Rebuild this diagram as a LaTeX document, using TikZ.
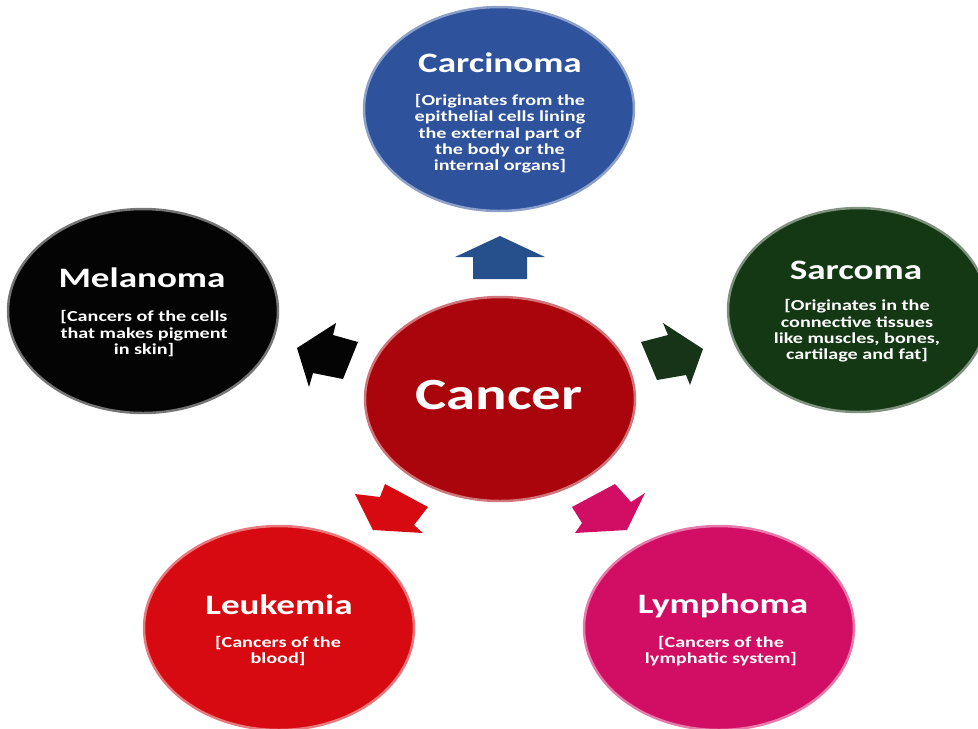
\documentclass[tikz,border=0pt]{standalone}
\usepackage{fontspec}
\setmainfont{Carlito}
\usepackage{graphicx}
\usetikzlibrary{shapes.geometric,positioning}

\definecolor{carcblue}{RGB}{46,82,156}
\definecolor{melblack}{RGB}{4,4,4}
\definecolor{sarcgreen}{RGB}{20,56,20}
\definecolor{cancred}{RGB}{170,4,12}
\definecolor{leukred}{RGB}{214,10,16}
\definecolor{lymphpink}{RGB}{210,14,100}
\definecolor{uparr}{RGB}{38,80,140}
\definecolor{greenarr}{RGB}{24,52,24}

\newcommand{\wide}[1]{\scalebox{1.32}[1]{#1}}
\newcommand{\lines}[1]{\wide{\begin{tabular}{@{}c@{}}#1\end{tabular}}}

\tikzset{
  blob/.style={ellipse, fill=#1, draw=#1!55!white, line width=1.4pt, minimum width=5.4cm, minimum height=4.08cm, inner sep=0pt},
  title/.style={text=white, font=\bfseries\fontsize{16}{19}\selectfont, inner sep=0pt},
  info/.style={text=white, font=\bfseries\fontsize{8.7}{9.3}\selectfont, inner sep=0pt}
}

\begin{document}
\begin{tikzpicture}[x=0.02cm, y=-0.02cm]
\useasboundingbox (0,0) rectangle (978,728);
\clip (0,0) rectangle (978,728);
\node [blob=carcblue] (carcinoma) at (499,109) {};
\node [title] (carcinomat) at (500,63) {\wide{Carcinoma}};
\node [info] (carcinomad) at (500,135) {\lines{[Originates from the\\epithelial cells lining\\the external part of\\the body or the\\internal organs]}};
\node [blob=melblack] (melanoma) at (143,311) {};
\node [title] (melanomat) at (142,278) {\wide{Melanoma}};
\node [info] (melanomad) at (144,335) {\lines{[Cancers of the cells\\that makes pigment\\in skin]}};
\node [blob=sarcgreen, minimum width=5.2cm] (sarcoma) at (858,310) {};
\node [title] (sarcomat) at (856,270) {\wide{Sarcoma}};
\node [info] (sarcomad) at (857,332) {\lines{[Originates in the\\connective tissues\\like muscles, bones,\\cartilage and fat]}};
\node [blob=cancred] (cancer) at (500,399) {};
\node [title, font=\bfseries\fontsize{25.4}{30}\selectfont] (cancert) at (499,395) {\wide{Cancer}};
\node [blob=leukred] (leukemia) at (279,628) {};
\node [title] (leukemiat) at (279,605) {\wide{Leukemia}};
\node [info] (leukemiad) at (278,652) {\lines{[Cancers of the\\blood]}};
\node [blob=lymphpink] (lymphoma) at (719,628) {};
\node [title] (lymphomat) at (723,606) {\wide{Lymphoma}};
\node [info] (lymphomad) at (721,652) {\lines{[Cancers of the\\lymphatic system]}};
\fill[uparr] (473,279) -- (473,257) -- (455,257) -- (500,236) -- (545,257) -- (527,257) -- (527,279) -- cycle;
\fill[melblack] (297,348) -- (336,323) -- (333,335) -- (358,342) -- (343,379) -- (313,373) -- (309,387) -- cycle;
\fill[greenarr] (641,342) -- (668,335) -- (663,323) -- (703,349) -- (690,385) -- (686,375) -- (657,380) -- cycle;
\fill[leukred] (355,494) -- (373,530) -- (423,533) -- (414,525) -- (428,507) -- (385,484) -- (380,497) -- cycle;
\fill[lymphpink] (572,507) -- (615,484) -- (631,502) -- (645,493) -- (627,530) -- (575,533) -- (582,523) -- cycle;
\end{tikzpicture}
\end{document}
